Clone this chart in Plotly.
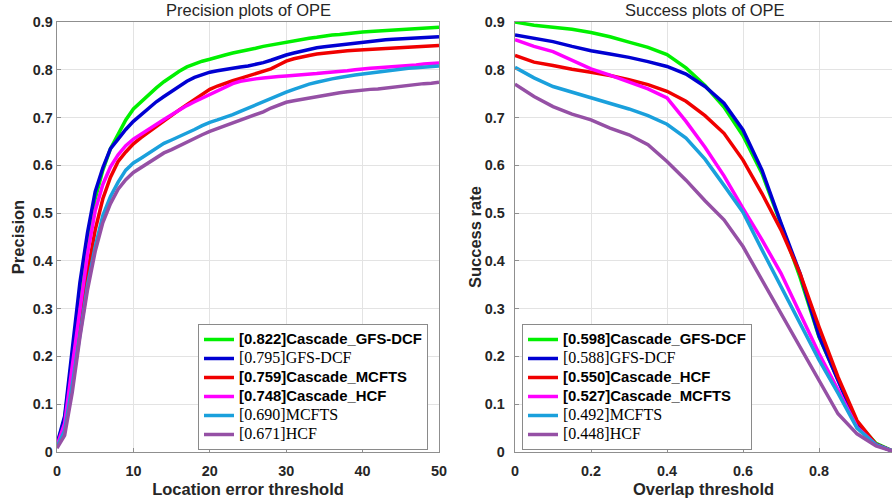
import plotly.graph_objects as go

# ---------------- data ----------------
loc_thr = list(range(0, 51))
ovl_thr = [round(i * 0.05, 2) for i in range(21)]
loc_ticks = [0, 10, 20, 30, 40, 50]
ovl_ticks = [0, 0.2, 0.4, 0.6, 0.8]
rate_ticks = [0, 0.1, 0.2, 0.3, 0.4, 0.5, 0.6, 0.7, 0.8, 0.9]

prec_cascade_gfsdcf = [0.015, 0.07, 0.20, 0.33, 0.45, 0.53, 0.59, 0.635, 0.665, 0.695, 0.718, 0.733, 0.748, 0.762, 0.775,
                       0.787, 0.797, 0.806, 0.812, 0.818, 0.822, 0.827, 0.831, 0.835, 0.838, 0.842, 0.845, 0.849, 0.852,
                       0.855, 0.858, 0.861, 0.864, 0.866, 0.868, 0.871, 0.873, 0.874, 0.876, 0.877, 0.879, 0.880, 0.881,
                       0.882, 0.883, 0.884, 0.885, 0.886, 0.887, 0.888, 0.889]
prec_gfsdcf = [0.017, 0.075, 0.215, 0.355, 0.46, 0.545, 0.595, 0.635, 0.655, 0.675, 0.692, 0.706, 0.72, 0.733, 0.744,
               0.755, 0.766, 0.776, 0.784, 0.79, 0.795, 0.798, 0.801, 0.804, 0.806, 0.808, 0.811, 0.815, 0.82, 0.826,
               0.831, 0.835, 0.839, 0.843, 0.846, 0.848, 0.85, 0.852, 0.854, 0.856, 0.858, 0.86, 0.861, 0.863, 0.864,
               0.865, 0.866, 0.867, 0.867, 0.868, 0.869]
prec_cascade_mcfts = [0.012, 0.05, 0.155, 0.265, 0.375, 0.465, 0.53, 0.575, 0.608, 0.628, 0.645, 0.658, 0.67, 0.681,
                      0.692, 0.705, 0.716, 0.727, 0.738, 0.749, 0.759, 0.766, 0.772, 0.777, 0.782, 0.787, 0.792, 0.797,
                      0.802, 0.81, 0.818, 0.823, 0.827, 0.83, 0.833, 0.835, 0.837, 0.838, 0.84, 0.841, 0.842, 0.843,
                      0.844, 0.845, 0.846, 0.846, 0.847, 0.848, 0.849, 0.85, 0.851]
prec_cascade_hcf = [0.013, 0.06, 0.18, 0.30, 0.415, 0.505, 0.56, 0.597, 0.622, 0.641, 0.655, 0.665, 0.676, 0.686, 0.696,
                    0.706, 0.716, 0.725, 0.733, 0.741, 0.748, 0.756, 0.764, 0.771, 0.776, 0.779, 0.781, 0.783, 0.785,
                    0.786, 0.787, 0.788, 0.79, 0.791, 0.792, 0.794, 0.795, 0.797, 0.798, 0.80, 0.802, 0.803, 0.804,
                    0.805, 0.807, 0.808, 0.809, 0.81, 0.812, 0.813, 0.814]
prec_mcfts = [0.01, 0.045, 0.14, 0.25, 0.35, 0.43, 0.495, 0.535, 0.565, 0.59, 0.605, 0.615, 0.625, 0.636, 0.646, 0.653,
              0.66, 0.667, 0.675, 0.683, 0.69, 0.695, 0.70, 0.706, 0.713, 0.72, 0.727, 0.734, 0.741, 0.747, 0.753,
              0.759, 0.765, 0.77, 0.774, 0.778, 0.781, 0.784, 0.787, 0.789, 0.791, 0.793, 0.795, 0.797, 0.80, 0.802,
              0.803, 0.804, 0.805, 0.806, 0.808]
prec_hcf = [0.008, 0.035, 0.125, 0.24, 0.34, 0.42, 0.48, 0.52, 0.55, 0.57, 0.585, 0.595, 0.605, 0.616, 0.626, 0.633,
            0.641, 0.649, 0.657, 0.664, 0.671, 0.677, 0.683, 0.688, 0.694, 0.70, 0.706, 0.712, 0.72, 0.727, 0.732,
            0.735, 0.738, 0.741, 0.744, 0.746, 0.749, 0.752, 0.754, 0.756, 0.757, 0.759, 0.76, 0.762, 0.764, 0.766,
            0.768, 0.77, 0.771, 0.772, 0.774]

succ_cascade_gfsdcf = [0.9, 0.893, 0.889, 0.885, 0.878, 0.869, 0.858, 0.847, 0.832, 0.804, 0.767, 0.722, 0.662, 0.583,
                       0.477, 0.366, 0.241, 0.15, 0.062, 0.018, 0.0]
succ_gfsdcf = [0.873, 0.866, 0.859, 0.849, 0.84, 0.833, 0.826, 0.817, 0.807, 0.791, 0.765, 0.73, 0.674, 0.59, 0.479,
               0.374, 0.243, 0.15, 0.058, 0.016, 0.0]
succ_cascade_hcf = [0.83, 0.816, 0.809, 0.801, 0.795, 0.788, 0.779, 0.769, 0.755, 0.734, 0.704, 0.667, 0.611, 0.541,
                    0.465, 0.374, 0.262, 0.157, 0.066, 0.016, 0.0]
succ_cascade_mcfts = [0.863, 0.849, 0.838, 0.82, 0.802, 0.789, 0.774, 0.76, 0.741, 0.692, 0.638, 0.578, 0.51, 0.444,
                      0.374, 0.29, 0.206, 0.13, 0.052, 0.015, 0.0]
succ_mcfts = [0.805, 0.783, 0.765, 0.753, 0.742, 0.73, 0.718, 0.704, 0.686, 0.657, 0.613, 0.558, 0.502, 0.423, 0.346,
              0.269, 0.193, 0.123, 0.05, 0.015, 0.0]
succ_hcf = [0.77, 0.744, 0.723, 0.707, 0.695, 0.678, 0.664, 0.643, 0.608, 0.569, 0.526, 0.486, 0.43, 0.36, 0.29, 0.22,
            0.15, 0.08, 0.038, 0.013, 0.0]

prec_labels = ["[0.822]Cascade_GFS-DCF", "[0.795]GFS-DCF", "[0.759]Cascade_MCFTS",
               "[0.748]Cascade_HCF", "[0.690]MCFTS", "[0.671]HCF"]
succ_labels = ["[0.598]Cascade_GFS-DCF", "[0.588]GFS-DCF", "[0.550]Cascade_HCF",
               "[0.527]Cascade_MCFTS", "[0.492]MCFTS", "[0.448]HCF"]
bold_flags = [True, False, True, True, False, False]
colors = ["#00F000", "#0000D2", "#F00000", "#FF00FF", "#1AA0DC", "#9550A5"]

prec_series = [prec_cascade_gfsdcf, prec_gfsdcf, prec_cascade_mcfts, prec_cascade_hcf, prec_mcfts, prec_hcf]
succ_series = [succ_cascade_gfsdcf, succ_gfsdcf, succ_cascade_hcf, succ_cascade_mcfts, succ_mcfts, succ_hcf]

# ---------------- figure ----------------
W, H = 892, 503
# page-pixel positions of the axes boxes (right box runs past the window edge)
AXL_L, AXL_R, AXR_L, AX_T, AX_B = 57, 439, 515, 22, 452
R_SCALE = 380  # pixels per unit overlap
ML, MT, MB, MR = AXL_L, AX_T, H - AX_B, 0
PW, PH = W - ML - MR, H - MT - MB
TXT = "#262626"


def px(x):
    return (x - ML) / PW


def py(y):
    return (H - MB - y) / PH


def fmt(name, bold):
    if bold:
        return '<b><span style="font-size:14.9px">' + name + "</span></b>"
    return '<span style="font-family:Liberation Serif; font-size:16px">' + name + "</span>"


fig = go.Figure()
for ys, lab, b, c in zip(prec_series, prec_labels, bold_flags, colors):
    fig.add_trace(go.Scatter(x=loc_thr, y=ys, mode="lines", name=fmt(lab, b),
                             line=dict(color=c, width=3.5), xaxis="x", yaxis="y", legend="legend"))
for ys, lab, b, c in zip(succ_series, succ_labels, bold_flags, colors):
    fig.add_trace(go.Scatter(x=ovl_thr, y=ys, mode="lines", name=fmt(lab, b),
                             line=dict(color=c, width=3.5), xaxis="x2", yaxis="y2", legend="legend2"))

axis_common = dict(showgrid=True, gridcolor="#e3e3e3", gridwidth=1, showline=True, linecolor="#8f8f8f",
                   linewidth=1.3, ticks="inside", ticklen=4, tickcolor="#8f8f8f", zeroline=False, automargin=False,
                   tickfont=dict(family="Liberation Sans", size=14.4, color=TXT, weight="bold"),
                   title_font=dict(family="Liberation Sans", size=16.5, color=TXT, weight="bold"))

legend_common = dict(xanchor="left", yanchor="top", bgcolor="white", bordercolor="#8a8a8a", borderwidth=1,
                     font=dict(family="Liberation Sans", size=12, color="black"), tracegroupgap=0, itemwidth=30)

fig.update_layout(
    width=W, height=H, margin=dict(l=ML, r=MR, t=MT, b=MB, pad=0),
    paper_bgcolor="white", plot_bgcolor="white", hovermode=False,
    font=dict(family="Liberation Sans", size=14, color="black"),
    xaxis=dict(domain=[0, px(AXL_R)], range=[0, 50], tickvals=loc_ticks, mirror=True, anchor="y",
               ticklabelstandoff=5, title=dict(text="Location error threshold", standoff=6), **axis_common),
    yaxis=dict(domain=[0, 1], range=[0, 0.9], tickvals=rate_ticks, mirror=True, anchor="x",
               title=dict(text="Precision", standoff=4), **axis_common),
    xaxis2=dict(domain=[px(AXR_L), 1.0], range=[0, (W - AXR_L) / R_SCALE], tickvals=ovl_ticks, mirror=True,
                anchor="y2", ticklabelstandoff=5, title=dict(text="Overlap threshold", standoff=6), **axis_common),
    yaxis2=dict(domain=[0, 1], range=[0, 0.9], tickvals=rate_ticks, mirror=False, anchor="x2",
                ticklabelstandoff=6, **axis_common),
    legend=dict(x=px(198), y=py(324), **legend_common),
    legend2=dict(x=px(522), y=py(324), **legend_common),
    annotations=[
        dict(text="Precision plots of OPE", x=px((AXL_L + AXL_R) / 2), y=py(10), xref="paper", yref="paper",
             showarrow=False, xanchor="center", yanchor="middle",
             font=dict(family="Liberation Sans", size=16.5, color=TXT)),
        dict(text="Success plots of OPE", x=px(AXR_L + R_SCALE / 2), y=py(10), xref="paper", yref="paper",
             showarrow=False, xanchor="center", yanchor="middle",
             font=dict(family="Liberation Sans", size=16.5, color=TXT)),
        dict(text="<b>Success rate</b>", x=px(475), y=py(237), xref="paper", yref="paper", textangle=-90,
             showarrow=False, xanchor="center", yanchor="middle",
             font=dict(family="Liberation Sans", size=16.5, color=TXT)),
    ],
)

# remove the default 8px page margin so the figure sits at the window origin
fig.write_html("out.html", config={"displayModeBar": False, "staticPlot": True},
               post_script="document.body.style.margin='0px';")
